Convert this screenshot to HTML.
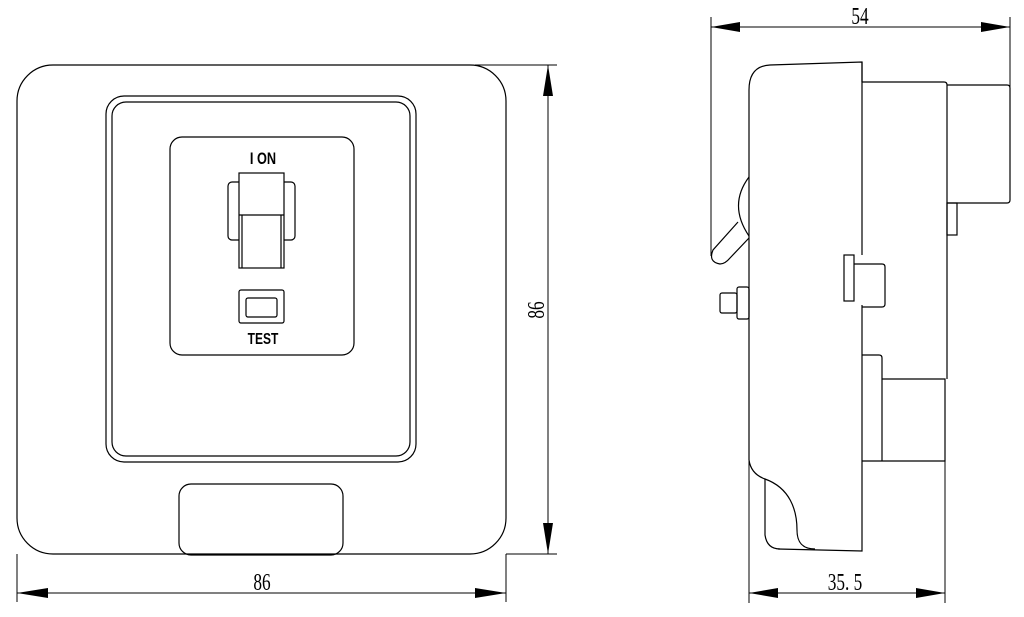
<!DOCTYPE html>
<html><head><meta charset="utf-8"><style>
html,body{margin:0;padding:0;background:#fff;}
svg{display:block;}
text{font-family:"Liberation Serif",serif;}
</style></head><body>
<svg width="1024" height="617" viewBox="0 0 1024 617" xmlns="http://www.w3.org/2000/svg">
<g fill="none" stroke="#000" stroke-width="1.2">
<!-- FRONT VIEW -->
<rect x="17" y="65" width="489" height="489" rx="36"/>
<rect x="106" y="96" width="310" height="366" rx="18"/>
<rect x="112" y="102" width="298" height="354" rx="14"/>
<rect x="170" y="137" width="184" height="218" rx="12"/>
<rect x="228" y="182" width="67" height="58" rx="4"/>
<rect x="239" y="173" width="45" height="95" fill="#fff"/>
<line x1="239" y1="215" x2="284" y2="215"/>
<line x1="242" y1="215" x2="242" y2="268"/>
<line x1="281" y1="215" x2="281" y2="268"/>
<rect x="239" y="290" width="45" height="33" rx="2"/>
<rect x="246" y="298" width="31" height="19" rx="2"/>
<rect x="179" y="484" width="164" height="71" rx="12"/>
<!-- front dims -->
<line x1="475" y1="65" x2="557" y2="65" stroke-width="1"/>
<line x1="506" y1="554" x2="557" y2="554" stroke-width="1"/>
<line x1="548" y1="65" x2="548" y2="554" stroke-width="1"/>
<line x1="17" y1="554" x2="17" y2="602" stroke-width="1"/>
<line x1="506" y1="554" x2="506" y2="602" stroke-width="1"/>
<line x1="17" y1="593" x2="506" y2="593" stroke-width="1"/>

<!-- SIDE VIEW -->
<path d="M749,460 L749,90 Q749,66 770,65 L862,62 L862,255 M862,305 L862,551 L778,549"/>
<line x1="862" y1="62" x2="862" y2="82"/>
<path d="M862,82 L944,82 Q947,82 947,85 L947,379"/>
<path d="M947,85 L1007,85 Q1010,85 1010,88 L1010,200 Q1010,203 1007,203 L947,203"/>
<rect x="947" y="203" width="10" height="32"/>
<path d="M862,355 L879,355 Q882,355 882,358 L882,461"/>
<path d="M882,379 L945,379 L945,461 L862,461"/>
<path d="M749,177 Q728,205 749,236"/>
<path d="M738,222 L713,250 Q708,262 720,264 Q725,264 730,258 L749,238"/>
<rect x="737" y="287" width="12" height="32" rx="2"/>
<rect x="720" y="293" width="17" height="20" rx="2"/>
<rect x="844" y="255" width="10" height="46"/>
<path d="M854,264 L882,264 Q885,264 885,267 L885,304 Q885,307 882,307 L862,307"/>
<path d="M749,460 Q751,474 765,479 C790,488 797,510 797,530 C797,545 805,549 815,549"/>
<path d="M765,479 L765,535 Q767,549 780,549"/>
<!-- side dims -->
<line x1="711" y1="17" x2="711" y2="256" stroke-width="1"/>
<line x1="1010" y1="17" x2="1010" y2="87" stroke-width="1"/>
<line x1="711" y1="27" x2="1010" y2="27" stroke-width="1"/>
<line x1="749" y1="460" x2="749" y2="603" stroke-width="1"/>
<line x1="945" y1="461" x2="945" y2="603" stroke-width="1"/>
<line x1="749" y1="593" x2="945" y2="593" stroke-width="1"/>
</g>
<g fill="#000">
<polygon points="548,65 543,96 553,96"/>
<polygon points="548,554 543,523 553,523"/>
<polygon points="17,593 48,588 48,598"/>
<polygon points="506,593 475,588 475,598"/>
<polygon points="711,27 740,22 740,32"/>
<polygon points="1010,27 981,22 981,32"/>
<polygon points="749,593 778,588 778,598"/>
<polygon points="945,593 916,588 916,598"/>
</g>
<g fill="#000" font-size="24">
<text x="262" y="590" text-anchor="middle" transform="translate(262,0) scale(0.72,1) translate(-262,0)">86</text>
<text x="0" y="0" text-anchor="middle" transform="translate(544,310) rotate(-90) scale(0.72,1)">86</text>
<text x="860" y="24" text-anchor="middle" transform="translate(860,0) scale(0.72,1) translate(-860,0)">54</text>
<text x="845" y="590" text-anchor="middle" transform="translate(845,0) scale(0.72,1) translate(-845,0)">35. 5</text>
</g>
<g fill="#000" font-weight="bold">
<text x="263" y="164" font-size="17" text-anchor="middle" style="font-family:'Liberation Sans',sans-serif" transform="translate(263,0) scale(0.75,1) translate(-263,0)">I ON</text>
<text x="263" y="344" font-size="16" text-anchor="middle" style="font-family:'Liberation Sans',sans-serif" transform="translate(263,0) scale(0.75,1) translate(-263,0)">TEST</text>
</g>
</svg>
</body></html>
